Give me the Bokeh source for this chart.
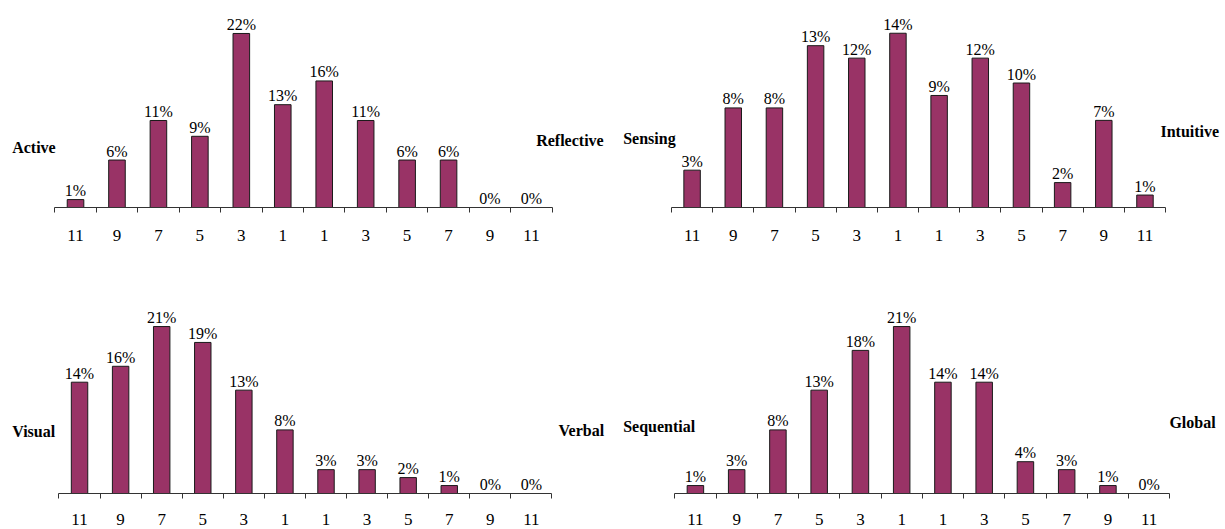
from bokeh.plotting import figure
from bokeh.models import Range1d, FixedTicker, ColumnDataSource
from bokeh.layouts import column, row
from bokeh.core.properties import value
from bokeh.embed import file_html
from bokeh.resources import INLINE

# ---- data ----
tick_labels = ["11", "9", "7", "5", "3", "1", "1", "3", "5", "7", "9", "11"]
active_reflective = [1, 6, 11, 9, 22, 13, 16, 11, 6, 6, 0, 0]
sensing_intuitive = [3, 8, 8, 13, 12, 14, 9, 12, 10, 2, 7, 1]
visual_verbal = [14, 16, 21, 19, 13, 8, 3, 3, 2, 1, 0, 0]
sequential_global = [1, 3, 8, 13, 18, 21, 14, 14, 4, 3, 1, 0]

BAR = "#993366"
SERIF = "Liberation Serif"


def panel(vals, left_label, right_label, xr, y_end, lpos, rpos, fw, fh, bb, standoff):
    n = len(vals)
    xs = list(range(n))
    src = ColumnDataSource(dict(x=xs, v=vals, lab=[f"{v}%" for v in vals]))
    p = figure(frame_width=fw, frame_height=fh, x_range=Range1d(*xr),
               y_range=Range1d(0, y_end), output_backend="svg",
               toolbar_location=None, title=None, y_axis_location=None,
               min_border_left=0, min_border_right=0, min_border_top=0,
               min_border_bottom=bb)
    p.outline_line_color = None
    p.xgrid.visible = False
    p.ygrid.visible = False
    p.background_fill_color = "white"
    p.border_fill_color = "white"

    p.vbar(x="x", top="v", bottom=0, width=0.4, source=src,
           fill_color=BAR, line_color="#1a1a1a", line_width=1)
    p.text(x="x", y="v", text="lab", source=src, text_align="center",
           text_baseline="alphabetic", y_offset=-9,
           text_font=value(SERIF), text_font_size="16px", text_color="black")
    p.text(x=[lpos[0], rpos[0]], y=[lpos[1], rpos[1]],
           text=[left_label, right_label], text_align="left",
           text_baseline="middle", text_font=value(SERIF),
           text_font_style="bold", text_font_size="16px", text_color="black")

    ax = p.xaxis[0]
    ax.ticker = FixedTicker(ticks=xs, minor_ticks=[i - 0.5 for i in range(n + 1)])
    ov = {}
    for i, t in enumerate(tick_labels):
        ov[i] = t
        ov[str(i)] = t
    ax.major_label_overrides = ov
    ax.bounds = (-0.5, n - 0.5)
    ax.major_tick_out = 0
    ax.major_tick_in = 0
    ax.minor_tick_out = 5
    ax.minor_tick_in = 0
    ax.minor_tick_line_color = "#333333"
    ax.axis_line_color = "#333333"
    ax.major_label_text_font = SERIF
    ax.major_label_text_font_size = "17px"
    ax.major_label_text_color = "black"
    ax.major_label_standoff = standoff
    return p


p1 = panel(active_reflective, "Active", "Reflective", (-1.810, 12.955), 26.17,
           (-1.528, 7.62), (11.114, 8.51), 612, 207, 56, 17)
p2 = panel(sensing_intuitive, "Sensing", "Intuitive", (-1.933, 12.956), 16.63,
           (-1.673, 5.52), (11.377, 6.08), 613, 207, 56, 17)
p3 = panel(visual_verbal, "Visual", "Verbal", (-1.924, 12.974), 28.93,
           (-1.639, 7.8), (11.66, 7.92), 612, 230, 36, 15)
p4 = panel(sequential_global, "Sequential", "Global", (-2.010, 12.850), 28.93,
           (-1.751, 8.47), (11.49, 8.97), 613, 230, 36, 15)

layout = column(row(p1, p2), row(p3, p4))
open("out.html", "w").write(file_html(layout, INLINE))
